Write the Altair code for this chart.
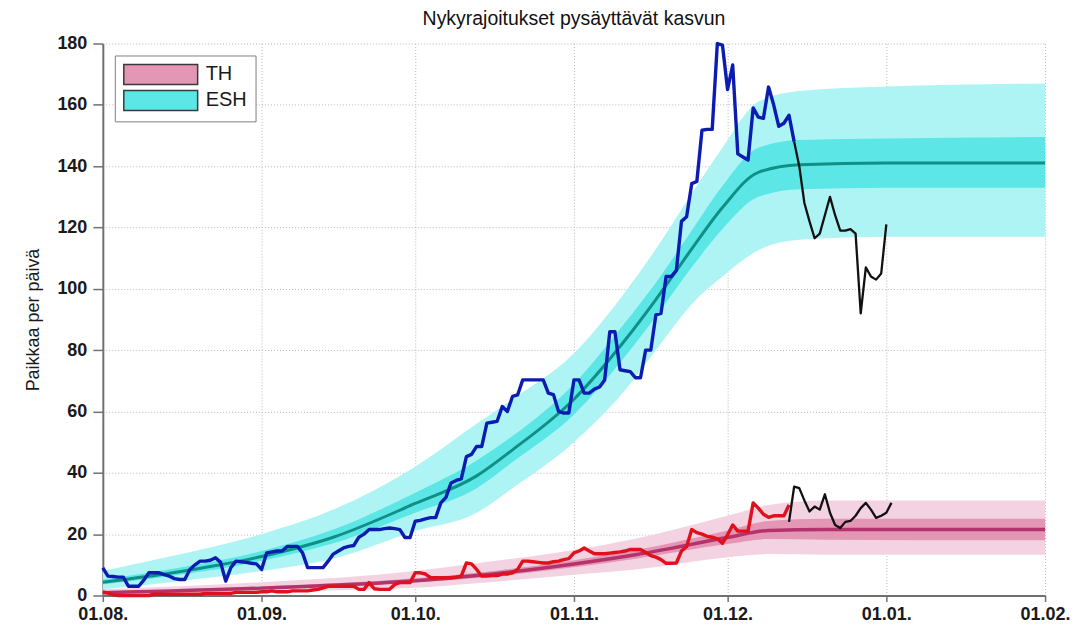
import altair as alt
import pandas as pd

# ---------------- observed daily series ----------------
ESH_START = "2020-08-01"
esh_aug = [9, 6.3, 6.2, 6, 6, 3, 3, 3, 5, 7.4, 7.4, 7.4, 6.8, 6.3, 5.5, 5.2, 5.2, 8.5, 10, 11.2,
           11.2, 11.5, 12.3, 10.8, 4.7, 9.1, 11.2, 11, 10.8, 10.5, 10.3]
esh_sep = [8.5, 13.9, 14.2, 14.5, 14.5, 16, 16, 16, 13.9, 9.1, 9.1, 9.1, 9.1, 11.2, 13.5, 14.5, 15.5,
           16, 16.3, 19, 20, 21.5, 21.5, 21.5, 21.8, 22, 21.8, 21.5, 18.9, 18.9]
esh_oct = [24.2, 24.5, 25, 25.4, 25.4, 30.2, 32, 36.7, 37.5, 38, 45.3, 46, 48.6, 48.6, 56.2, 56.5,
           56.8, 61.6, 60, 64.9, 65.4, 70.3, 70.3, 70.3, 70.3, 70.3, 66, 65.5, 60, 59.5, 59.5]
esh_nov = [70.3, 70.3, 66, 66, 67.3, 68, 70.3, 86, 86, 73.6, 73.3, 73, 71, 71, 80, 80, 91.5, 92,
           104, 104, 106, 122, 123.5, 134.3, 135, 151.7, 152, 152, 180, 179.5]
esh_dec = [165, 173, 144, 143, 142, 159, 156, 155.6, 165.8, 160, 153, 154, 156.6, 148]

ESH_RECENT_START = "2020-12-14"
esh_recent = [148, 140, 128, 122, 116.5, 118, 124, 130, 124, 119, 119, 119.5, 118, 92, 107, 104,
              103, 105, 121]

TH_START = "2020-08-01"
th_aug = [1.2, 0.8, 0.3, 0, 0, 0, 0, 0, 0, 0, 0.4, 0.4, 0.4, 0.4, 0.4, 0.4, 0.4, 0.4, 0.4, 0.4,
          0.7, 0.7, 0.7, 0.7, 0.7, 0.7, 1, 1, 1, 1, 1]
th_sep = [1.2, 1.2, 1.5, 1.2, 1.2, 1.2, 1.5, 1.5, 1.5, 1.5, 1.8, 2, 2.5, 3, 3, 3, 3, 3, 3, 2, 2,
          4.2, 2.2, 2, 2, 2, 3.6, 4.2, 4.2, 4.2]
th_oct = [7.4, 7.4, 7, 5.8, 5.8, 5.8, 5.8, 5.8, 6, 6.3, 10.6, 10.3, 8.5, 6.3, 6.3, 6.5, 6.5, 7, 7,
          7.4, 8.5, 11.2, 11.2, 11, 10.8, 10.6, 10.6, 11, 11.2, 11.7, 12]
th_nov = [13.9, 14.5, 15.5, 14.5, 13.6, 13.6, 13.6, 13.8, 14, 14.2, 14.5, 15, 15, 15, 14, 13, 12.5,
          11.7, 10.5, 10.5, 10.6, 14.5, 16, 21.5, 20.5, 20, 19.3, 19, 18.5, 17]
th_dec = [19.8, 23, 21, 21, 21, 30.2, 28.5, 26.5, 25.5, 26, 26, 26, 29.5]

TH_RECENT_START = "2020-12-13"
th_recent = [24, 35.5, 35, 31, 27.4, 29, 28, 33, 27, 23, 22, 24, 24.3, 26, 28.5, 30.2, 28, 25.3,
             26, 27, 30.2]

# ---------------- model bands (key dates) ----------------
esh_band_dates = ["2020-08-01", "2020-08-15", "2020-09-01", "2020-09-15", "2020-10-01",
                  "2020-10-13", "2020-10-20", "2020-11-01", "2020-11-11", "2020-11-17",
                  "2020-11-24", "2020-11-30", "2020-12-07", "2020-12-15", "2021-01-01",
                  "2021-02-01"]
esh_median = [4.3, 7.5, 12.7, 19, 30, 39, 47.5, 64, 83.3, 96.5, 113, 126.5, 138, 140.5, 141, 141]
esh_inner_low = [3.6, 6.5, 11.3, 17, 27, 35, 43.5, 59, 78, 91, 107, 119.5, 130, 132.5, 133, 133]
esh_inner_high = [5.2, 8.8, 14.5, 21.5, 33.5, 44, 52, 69, 89, 102, 119, 133.5, 146, 148.5, 149, 149.5]
esh_outer_low = [2, 4.5, 8, 12, 21, 27, 35, 50, 67, 80, 95, 104, 112.6, 116, 117, 117]
esh_outer_high = [8, 13, 20, 28, 42, 56, 64, 79, 99, 113, 131, 146, 161, 164.5, 166, 167]

th_band_dates = ["2020-08-01", "2020-09-01", "2020-10-01", "2020-10-13", "2020-11-01",
                 "2020-11-13", "2020-12-01", "2020-12-09", "2020-12-20", "2021-02-01"]
th_median = [0.9, 2.4, 4.8, 6.5, 10.3, 13.3, 18.9, 21.2, 21.5, 21.5]
th_inner_low = [0.6, 2.0, 4.2, 5.7, 9.2, 12, 16.8, 18.4, 18.2, 18]
th_inner_high = [1.2, 2.9, 5.6, 7.4, 11.5, 14.8, 21.2, 24.3, 25, 25]
th_outer_low = [0.2, 1.2, 2.5, 4, 6.8, 8.5, 12.5, 13.5, 13.3, 13.3]
th_outer_high = [2, 4.3, 8, 10.5, 14.8, 18.5, 26, 29.5, 31, 31]

series_names = ["TH", "ESH"]
month_ticks = [(2020, 8), (2020, 9), (2020, 10), (2020, 11), (2020, 12), (2021, 1), (2021, 2)]
y_ticks = [0, 20, 40, 60, 80, 100, 120, 140, 160, 180]

# ---------------- colours ----------------
TH_OUT, TH_IN, TH_MED = "#f3d3e1", "#e496b5", "#b3336a"
ESH_OUT, ESH_IN, ESH_MED = "#aef4f4", "#5ce6e6", "#0f8f86"
BLUE, RED, BLACK = "#0c1cb0", "#e0101c", "#111111"
FONT = "Liberation Sans"
GRID = "#b8b8b8"


def daily(start, values, name):
    return pd.DataFrame({"date": pd.date_range(start, periods=len(values), freq="D"),
                         "value": values, "series": name})


def band(dates, med, ilo, ihi, olo, ohi, name):
    return pd.DataFrame({"date": pd.to_datetime(dates), "med": med, "in_lo": ilo, "in_hi": ihi,
                         "out_lo": olo, "out_hi": ohi, "series": name})


esh_obs_df = daily(ESH_START, esh_aug + esh_sep + esh_oct + esh_nov + esh_dec, "ESH")
esh_rec_df = daily(ESH_RECENT_START, esh_recent, "ESH")
th_obs_df = daily(TH_START, th_aug + th_sep + th_oct + th_nov + th_dec, "TH")
th_rec_df = daily(TH_RECENT_START, th_recent, "TH")
esh_band_df = band(esh_band_dates, esh_median, esh_inner_low, esh_inner_high,
                   esh_outer_low, esh_outer_high, "ESH")
th_band_df = band(th_band_dates, th_median, th_inner_low, th_inner_high,
                  th_outer_low, th_outer_high, "TH")

tick_dates = [alt.DateTime(year=y, month=m, date=1) for y, m in month_ticks]

x_enc = alt.X(
    "date:T",
    scale=alt.Scale(domain=[tick_dates[0], tick_dates[-1]]),
    axis=alt.Axis(values=tick_dates, format="%d.%m.", title=None, labelFontSize=18,
                  labelFontWeight="bold", labelColor="#1a1a1a", labelFont=FONT,
                  tickSize=6, tickColor="#707070", tickWidth=1.5, labelPadding=4,
                  domainColor="#707070", domainWidth=2, grid=True, gridColor=GRID,
                  gridDash=[1, 2], gridWidth=1, labelOverlap=False, labelBound=False,
                  labelFlush=False),
)
y_scale = alt.Scale(domain=[0, 180], nice=False)
y_axis = alt.Axis(values=y_ticks, title="Paikkaa per päivä", titleFontSize=18,
                  titleFontWeight="normal", titleColor="#1a1a1a", titleFont=FONT,
                  titlePadding=14, labelFontSize=18, labelFontWeight="bold",
                  labelColor="#1a1a1a", labelFont=FONT, tickSize=10, tickColor="#707070",
                  tickWidth=1.5, labelPadding=6, domainColor="#707070", domainWidth=2,
                  grid=True, gridColor=GRID, gridDash=[1, 2], gridWidth=1)

fill_enc = alt.Fill(
    "series:N",
    scale=alt.Scale(domain=series_names, range=[TH_IN, ESH_IN]),
    legend=alt.Legend(title=None, orient="none", legendX=12, legendY=12,
                      symbolType="M-1,-1L6.4,-1L6.4,1L-1,1Z", symbolSize=400,
                      symbolStrokeColor="#3a3a3a", symbolStrokeWidth=1.5, symbolOpacity=1,
                      labelFontSize=20, labelFont=FONT, labelColor="#1a1a1a", labelOffset=61,
                      padding=8, rowPadding=0, strokeColor="#808080", fillColor="white"),
)

th_outer = alt.Chart(th_band_df).mark_area(color=TH_OUT, interpolate="monotone").encode(
    x=x_enc, y=alt.Y("out_lo:Q", scale=y_scale, axis=y_axis), y2="out_hi:Q")
th_inner = alt.Chart(th_band_df).mark_area(interpolate="monotone").encode(
    x=x_enc, y=alt.Y("in_lo:Q", scale=y_scale, axis=y_axis), y2="in_hi:Q", fill=fill_enc)
esh_outer = alt.Chart(esh_band_df).mark_area(color=ESH_OUT, interpolate="monotone").encode(
    x=x_enc, y=alt.Y("out_lo:Q", scale=y_scale, axis=y_axis), y2="out_hi:Q")
esh_inner = alt.Chart(esh_band_df).mark_area(interpolate="monotone").encode(
    x=x_enc, y=alt.Y("in_lo:Q", scale=y_scale, axis=y_axis), y2="in_hi:Q", fill=fill_enc)

th_med = alt.Chart(th_band_df).mark_line(color=TH_MED, strokeWidth=3.5, interpolate="monotone").encode(
    x=x_enc, y=alt.Y("med:Q", scale=y_scale, axis=y_axis))
esh_med = alt.Chart(esh_band_df).mark_line(color=ESH_MED, strokeWidth=3, interpolate="monotone").encode(
    x=x_enc, y=alt.Y("med:Q", scale=y_scale, axis=y_axis))


def obs_line(df, color, width):
    return alt.Chart(df).mark_line(color=color, strokeWidth=width, strokeJoin="round").encode(
        x=x_enc, y=alt.Y("value:Q", scale=y_scale, axis=y_axis))


chart = alt.layer(
    th_outer, th_inner, esh_outer, esh_inner, th_med, esh_med,
    obs_line(th_obs_df, RED, 3.4), obs_line(esh_obs_df, BLUE, 3.4),
    obs_line(th_rec_df, BLACK, 2.3), obs_line(esh_rec_df, BLACK, 2.3),
).properties(
    width=944, height=553,
    title=alt.TitleParams("Nykyrajoitukset pysäyttävät kasvun", fontSize=19.5, fontWeight="normal",
                          font=FONT, color="#111111", anchor="middle", offset=5),
    autosize=alt.AutoSizeParams(type="none"),
    padding={"left": 95, "top": 35, "right": 36, "bottom": 32},
    background="white",
).configure_view(stroke=None)

chart.save("out.html", embed_options={"renderer": "svg", "actions": False})
